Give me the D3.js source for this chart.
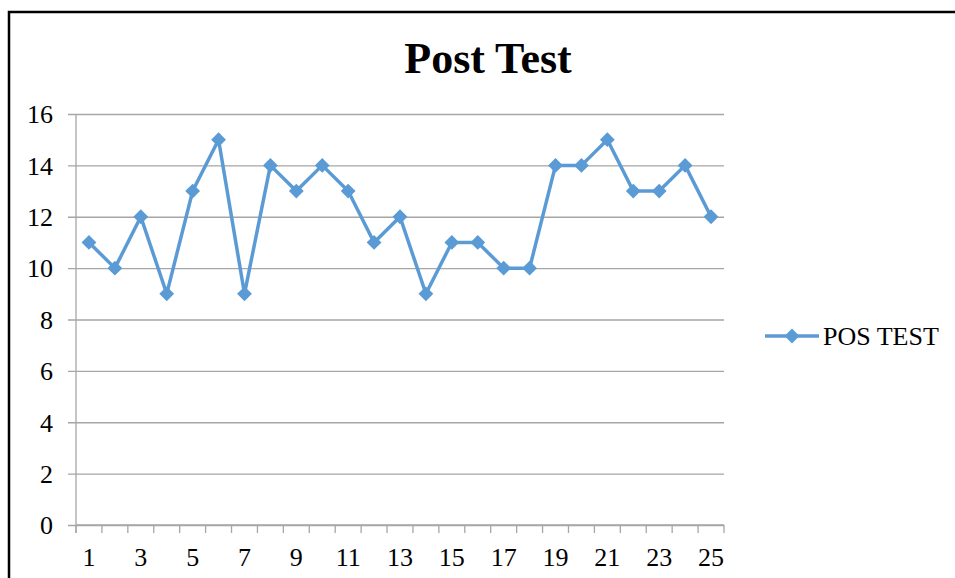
<!DOCTYPE html>
<html>
<head>
<meta charset="utf-8">
<script src="https://cdn.jsdelivr.net/npm/d3@7"></script>
<style>
  html, body { margin: 0; padding: 0; background: #fff; }
  svg { display: block; font-family: "Liberation Serif", "Times New Roman", serif; }
</style>
</head>
<body>
<svg id="chart" width="955" height="578"></svg>
<script>
'use strict';

// ─── Data ────────────────────────────────────────────────────────────────────
const chartTitle = 'Post Test';
const seriesName = 'POS TEST';
const categories = d3.range(1, 26);
const scores     = [11, 10, 12, 9, 13, 15, 9, 14, 13, 14, 13, 11, 12, 9, 11, 11, 10, 10, 14, 14, 15, 13, 13, 14, 12];
const yTicks     = [0, 2, 4, 6, 8, 10, 12, 14, 16];

// ─── Layout ──────────────────────────────────────────────────────────────────
const plot = { left: 76, right: 724, top: 114, bottom: 525 };
const lineColor = '#5B9BD5';
const gridColor = '#A6A6A6';
const labelSize = 26;

const svg = d3.select('#chart');

// Outer frame (extends past the window on right/bottom)
svg.append('rect')
  .attr('x', 9).attr('y', 12)
  .attr('width', 1000).attr('height', 700)
  .attr('fill', 'none').attr('stroke', '#000').attr('stroke-width', 2.5);

const x = d3.scaleBand().domain(categories).range([plot.left, plot.right]);
const y = d3.scaleLinear().domain([0, 16]).range([plot.bottom, plot.top]);

// Title
svg.append('text')
  .attr('x', 488).attr('y', 73)
  .attr('text-anchor', 'middle')
  .attr('font-size', 44).attr('font-weight', 'bold')
  .text(chartTitle);

// Gridlines + y labels
const yAxis = svg.append('g').attr('transform', `translate(${plot.left},0)`)
  .call(d3.axisLeft(y).tickValues(yTicks).tickSize(-(plot.right - plot.left)).tickPadding(23));
yAxis.attr('font-family', null).attr('font-size', null);
yAxis.select('.domain').remove();
yAxis.selectAll('.tick line')
  .attr('x1', -8)
  .attr('stroke', gridColor).attr('stroke-width', 1.3);
yAxis.selectAll('.tick text')
  .attr('font-size', labelSize).attr('fill', '#000')
  .attr('dy', '0.34em');

// Left axis line
svg.append('line')
  .attr('x1', plot.left).attr('x2', plot.left)
  .attr('y1', plot.top).attr('y2', plot.bottom + 8)
  .attr('stroke', gridColor).attr('stroke-width', 1.3);

// Category axis: ticks at band boundaries
const xAxis = svg.append('g');
xAxis.append('line')
  .attr('x1', plot.left).attr('x2', plot.right)
  .attr('y1', plot.bottom).attr('y2', plot.bottom)
  .attr('stroke', gridColor).attr('stroke-width', 1.3);
const bounds = categories.map(c => x(c)).concat([x(categories[categories.length - 1]) + x.bandwidth()]);
xAxis.selectAll('line.tk').data(bounds).join('line')
  .attr('class', 'tk')
  .attr('x1', d => d).attr('x2', d => d)
  .attr('y1', plot.bottom).attr('y2', plot.bottom + 8)
  .attr('stroke', gridColor).attr('stroke-width', 1.3);
xAxis.selectAll('text').data(categories.filter(c => c % 2 === 1)).join('text')
  .attr('x', d => x(d) + x.bandwidth() / 2)
  .attr('y', 566)
  .attr('text-anchor', 'middle')
  .attr('font-size', labelSize)
  .text(d => d);

// Series line
const cx = (d, i) => x(categories[i]) + x.bandwidth() / 2;
svg.append('path')
  .datum(scores)
  .attr('fill', 'none')
  .attr('stroke', lineColor)
  .attr('stroke-width', 3.5)
  .attr('stroke-linejoin', 'round')
  .attr('d', d3.line().x(cx).y(d => y(d)));

const diamond = d3.symbol().type(d3.symbolDiamond2).size(140);
svg.append('g').selectAll('path').data(scores).join('path')
  .attr('transform', (d, i) => `translate(${cx(d, i)},${y(d)})`)
  .attr('d', diamond)
  .attr('fill', lineColor);

// Legend
const lg = svg.append('g').attr('transform', 'translate(765,336)');
lg.append('line').attr('x1', 0).attr('x2', 54).attr('y1', 0).attr('y2', 0)
  .attr('stroke', lineColor).attr('stroke-width', 3.5);
lg.append('path').attr('transform', 'translate(27,0)').attr('d', diamond).attr('fill', lineColor);
lg.append('text').attr('x', 58).attr('y', 0).attr('dy', '0.34em')
  .attr('font-size', labelSize).text(seriesName);
</script>
</body>
</html>
